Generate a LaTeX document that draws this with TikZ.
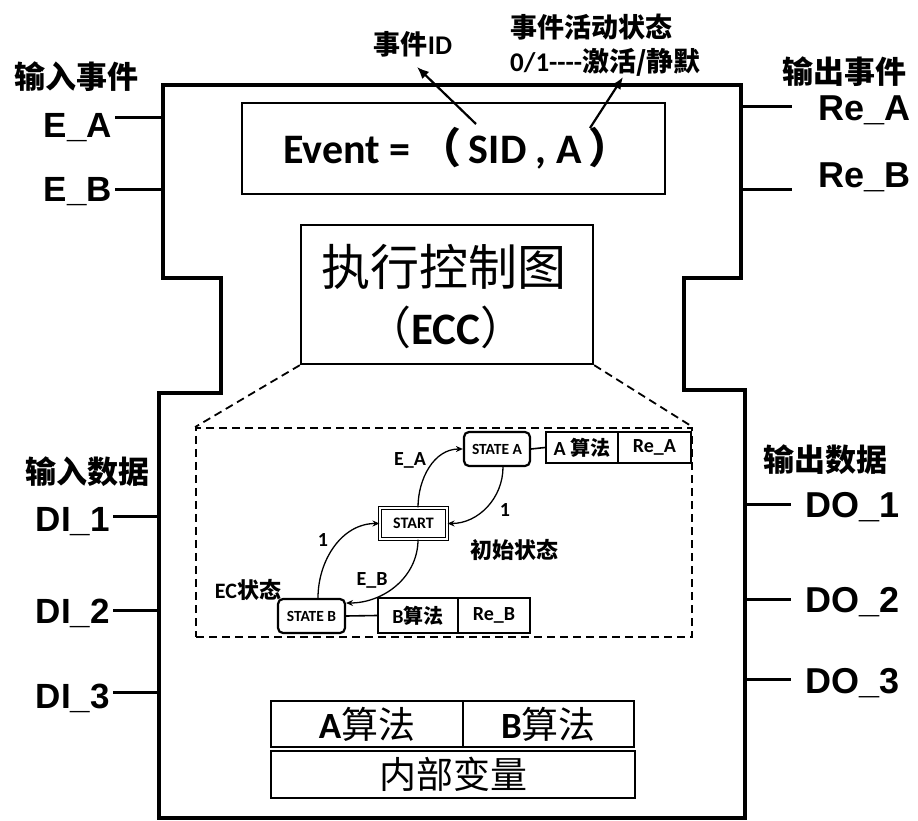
\documentclass[tikz,border=0pt]{standalone}
\usepackage{fontspec}
\setmainfont{Liberation Sans}
\newfontfamily\cjkfont{Noto Sans CJK SC}
\newfontfamily\calibfont{Carlito}
\usetikzlibrary{arrows.meta}
\newcommand\myCB{\calibfont\bfseries}
\newcommand\myKB{\cjkfont\bfseries}
\newcommand\myKR{\cjkfont}
\newcommand\fs[1]{\fontsize{#1}{#1}\selectfont}
\begin{document}
\begin{tikzpicture}[x=1pt,y=1pt,
  frame/.style={line width=3.4pt, line join=miter},
  port/.style={line width=3pt},
  lablft/.style={font=\fs{35}\bfseries, inner sep=0pt, anchor=base east},
  labrgt/.style={font=\fs{36}\bfseries, inner sep=0pt, anchor=base west},
  cjkhead/.style={font=\fs{31}\myKB, inner sep=0pt},
  toplab/.style={font=\fs{27}\myKB, inner sep=0pt},
  toparrow/.style={line width=2.2pt, -{Latex[length=12pt,width=10pt]}},
  bigbox/.style={draw, line width=2.4pt, inner sep=0pt},
  dashbox/.style={draw, line width=1.8pt, dash pattern=on 8pt off 5pt},
  stbox/.style={draw, line width=2.2pt, rounded corners=5pt, inner sep=0pt, font=\fs{15.5}\myCB},
  algbox/.style={draw, line width=1.8pt, inner sep=0pt, font=\fs{20}\myCB},
  sarrow/.style={line width=1.3pt, -{Stealth[length=7pt,width=6pt]}},
  slab/.style={font=\fs{20}\myCB, inner sep=0pt},
  bottombox/.style={draw, line width=2pt, inner sep=0pt, font=\fs{37}\myKR}
]
\useasboundingbox (0,0) rectangle (918,820);

% outer function block frame
\draw[frame] (163,735) -- (741,735) -- (741,542) -- (684,542) -- (684,430)
  -- (745,430) -- (745,2) -- (159,2) -- (159,427) -- (221,427) -- (221,542)
  -- (163,542) -- cycle;

% input events
\node[cjkhead] (inev) at (76,743) {输入事件};
\node[lablft] (EA) at (112,682) {E\_A};
\node[lablft] (EB) at (112,618) {E\_B};
\coordinate (ea1) at (115,702); \coordinate (ea2) at (163,702);
\coordinate (eb1) at (115,630); \coordinate (eb2) at (163,630);
\draw[port] (ea1) -- (ea2);
\draw[port] (eb1) -- (eb2);

% output events
\node[cjkhead] (outev) at (844,748) {输出事件};
\node[labrgt] (ReA) at (818,699) {Re\_A};
\node[labrgt] (ReB) at (818,632) {Re\_B};
\coordinate (ra1) at (741,713); \coordinate (ra2) at (792,713);
\coordinate (rb1) at (741,630); \coordinate (rb2) at (792,630);
\draw[port] (ra1) -- (ra2);
\draw[port] (rb1) -- (rb2);

% input data
\node[cjkhead] (indata) at (87,348) {输入数据};
\node[lablft] (DI1) at (110,288) {DI\_1};
\node[lablft] (DI2) at (110,197) {DI\_2};
\node[lablft] (DI3) at (110,112) {DI\_3};
\coordinate (d1a) at (113,303); \coordinate (d1b) at (159,303);
\coordinate (d2a) at (113,210); \coordinate (d2b) at (159,210);
\coordinate (d3a) at (113,128); \coordinate (d3b) at (159,128);
\draw[port] (d1a) -- (d1b);
\draw[port] (d2a) -- (d2b);
\draw[port] (d3a) -- (d3b);

% output data
\node[cjkhead] (outdata) at (825,360) {输出数据};
\node[labrgt] (DO1) at (805,302) {DO\_1};
\node[labrgt] (DO2) at (805,208) {DO\_2};
\node[labrgt] (DO3) at (805,127) {DO\_3};
\coordinate (o1a) at (745,315); \coordinate (o1b) at (791,315);
\coordinate (o2a) at (745,221); \coordinate (o2b) at (791,221);
\coordinate (o3a) at (745,141); \coordinate (o3b) at (791,141);
\draw[port] (o1a) -- (o1b);
\draw[port] (o2a) -- (o2b);
\draw[port] (o3a) -- (o3b);

% event box
\node[draw, line width=1.8pt, minimum width=423, minimum height=91, inner sep=0pt] (evbox) at (453.5,671.5) {};
\node[inner sep=0pt, font=\fs{42}\myCB] (evtext) at (457,672) {Event = {\myKB（}\,SID , A\,{\myKB）}};

% top annotations
\node[toplab] (evid) at (413,776) {事件{\myCB ID}};
\node[toplab, anchor=west] (act1) at (510,793) {事件活动状态};
\node[toplab, anchor=west] (act2) at (510,758) {{\myCB 0/1----}激活/静默};
\coordinate (sidtail) at (476,696); \coordinate (sidhead) at (417,753);
\coordinate (atail) at (590,692); \coordinate (ahead) at (623,743);
\draw[toparrow] (sidtail) -- (sidhead);
\draw[toparrow] (atail) -- (ahead);

% ECC box
\node[bigbox, minimum width=292, minimum height=139] (ecc) at (447,525.5) {};
\node[inner sep=0pt, font=\fs{49}\myKR] (ecc1) at (444,553) {执行控制图};
\node[inner sep=0pt, font=\fs{45}\myKR] (ecc2) at (446,493) {（{\myCB ECC}）};

% zoom box
\node[dashbox, minimum width=496, minimum height=209, inner sep=0pt] (zbox) at (444,287.5) {};
\draw[line width=1.8pt, dash pattern=on 8pt off 5pt] (ecc.south west) -- (zbox.north west);
\draw[line width=1.8pt, dash pattern=on 8pt off 5pt] (ecc.south east) -- (zbox.north east);

% ECC state machine
\node[draw, line width=1.1pt, double, double distance=2.4pt, minimum width=67, minimum height=31, inner sep=0pt, font=\fs{16}\myCB] (start) at (413.5,296.5) {START};
\node[stbox, minimum width=66, minimum height=34] (sa) at (497,371) {STATE A};
\node[algbox, minimum width=72, minimum height=31] (aalg) at (582,372.5) {A {\myKB 算法}};
\node[algbox, minimum width=73, minimum height=31] (rea) at (654.5,372.5) {Re\_A};
\node[stbox, minimum width=67, minimum height=34] (sb) at (311.5,204) {STATE B};
\node[algbox, minimum width=80, minimum height=35] (balg) at (418,204.5) {B{\myKB 算法}};
\node[algbox, minimum width=72, minimum height=35] (reb) at (494,204.5) {Re\_B};
\draw[line width=1.6pt] (sa.east) -- (aalg.west);
\draw[line width=1.6pt] (sb.east) -- (balg.west);

\coordinate (sbin) at (346,217);
\draw[sarrow] ([xshift=4.5pt]start.north) to[out=90,in=180] (sa.west);
\draw[sarrow] ([xshift=6pt]sa.south) to[out=-90,in=0] (start.east);
\draw[sarrow] ([xshift=6.5pt]sb.north) to[out=90,in=180] (start.west);
\draw[sarrow] ([xshift=4.5pt]start.south) to[out=-90,in=0] (sbin);

\node[slab] (lEA) at (410,360) {E\_A};
\node[slab] (l1a) at (505,310) {1};
\node[slab] (l1b) at (323,280) {1};
\node[slab] (lEB) at (372,240) {E\_B};
\node[inner sep=0pt, font=\fs{22}\myKB] (ecst) at (248,230) {{\myCB EC}状态};
\node[inner sep=0pt, font=\fs{22}\myKB] (init) at (514,270) {初始状态};

% bottom algorithm / variable boxes
\node[bottombox, minimum width=192, minimum height=46] (balgA) at (367,96) {{\myCB A}算法};
\node[bottombox, minimum width=171, minimum height=46] (balgB) at (548.5,96) {{\myCB B}算法};
\node[bottombox, minimum width=364, minimum height=47] (vars) at (453,45.5) {内部变量};
\end{tikzpicture}
\end{document}
